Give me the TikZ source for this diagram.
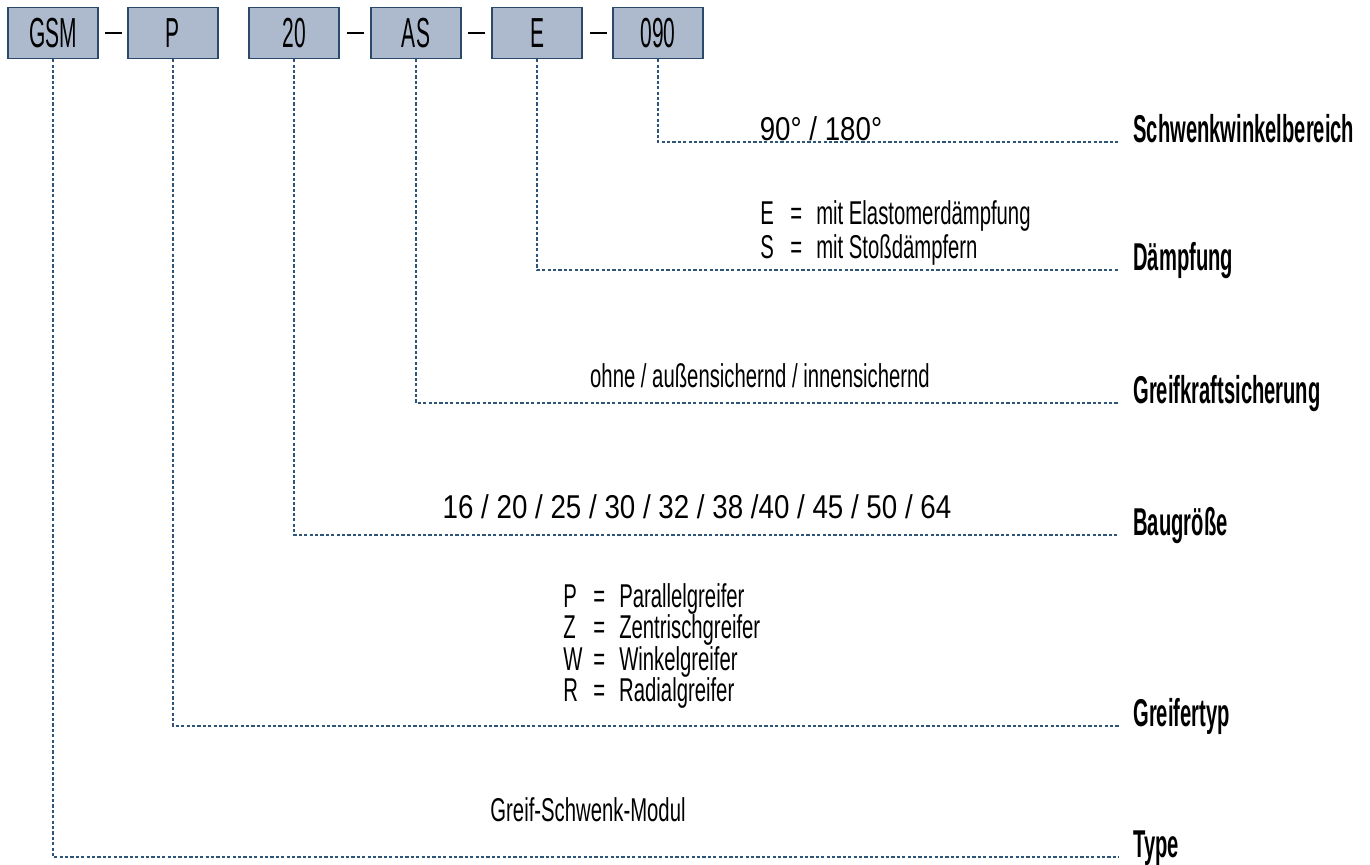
\documentclass[tikz,border=0pt]{standalone}
\usepackage{fontspec}
\setmainfont{Liberation Sans}[FakeStretch=0.615]
\newfontfamily\codefont{Liberation Sans}[FakeStretch=0.5]
\newfontfamily\labfont{Liberation Sans}[FakeStretch=0.52]
\newfontfamily\numfont{Liberation Sans}[FakeStretch=0.84]
\definecolor{boxfill}{HTML}{ADBACD}
\definecolor{boxline}{HTML}{2B4A6B}
\definecolor{dashc}{HTML}{2E5478}
\tikzset{
  code/.style={draw=boxline, fill=boxfill, line width=0.6pt, minimum width=45pt, minimum height=25.5pt, inner sep=0pt, font=\codefont\fontsize{21}{23}\selectfont},
  hyph/.style={inner sep=0pt, fill=black, minimum width=8.5pt, minimum height=1pt},
  lead/.style={draw=dashc, line width=0.55pt, dash pattern=on 1.6pt off 1.1pt},
  lab/.style={font=\labfont\fontsize{19.4}{22}\selectfont\bfseries, anchor=base west, inner sep=0pt},
  val/.style={font=\fontsize{16.5}{18}\selectfont, inner sep=0pt},
  numval/.style={font=\numfont\fontsize{16.5}{18}\selectfont, inner sep=0pt},
}
\newcommand{\eqrow}[2]{\makebox[15pt][l]{#1}=\hspace{7pt}#2}
\begin{document}
\begin{tikzpicture}[x=0.5pt,y=-0.5pt]
\useasboundingbox (0,0) rectangle (1370,864);
% code boxes
\node[code] (b1) at (53,33) {GSM};
\node[code] (b2) at (173,33) {P};
\node[code] (b3) at (294,33) {20};
\node[code] (b4) at (416,33) {AS};
\node[code] (b5) at (537,33) {E};
\node[code] (b6) at (658,33) {090};
\node[hyph] (h1) at (113,33) {};
\node[hyph] (h2) at (355,33) {};
\node[hyph] (h3) at (476,33) {};
\node[hyph] (h4) at (598,33) {};
% line ends
\coordinate (e6) at (1119,142);
\coordinate (e5) at (1119,270);
\coordinate (e4) at (1119,403);
\coordinate (e3) at (1119,535);
\coordinate (e2) at (1119,726);
\coordinate (e1) at (1119,857);
\draw[lead] (b6.south) |- (e6);
\draw[lead] (b5.south) |- (e5);
\draw[lead] (b4.south) |- (e4);
\draw[lead] (b3.south) |- (e3);
\draw[lead] (b2.south) |- (e2);
\draw[lead] (b1.south) |- (e1);
% labels
\node[lab] (l6) at (1133,142) {Schwenkwinkelbereich};
\node[lab] (l5) at (1133,270) {Dämpfung};
\node[lab] (l4) at (1133,403) {Greifkraftsicherung};
\node[lab] (l3) at (1133,535) {Baugröße};
\node[lab] (l2) at (1133,726) {Greifertyp};
\node[lab] (l1) at (1133,857) {Type};
% values
\node[numval, anchor=base] (v6) at (821,140) {90° / 180°};
\node[val, anchor=base west] (v5a) at (760,224) {\eqrow{E}{mit Elastomerdämpfung}};
\node[val, anchor=base west] (v5b) at (760,258) {\eqrow{S}{mit Stoßdämpfern}};
\node[val, anchor=base] (v4) at (760,387) {ohne / außensichernd / innensichernd};
\node[numval, anchor=base] (v3) at (697,518) {16 / 20 / 25 / 30 / 32 / 38 /40 / 45 / 50 / 64};
\node[val, anchor=base west] (v2a) at (563,607) {\eqrow{P}{Parallelgreifer}};
\node[val, anchor=base west] (v2b) at (563,638) {\eqrow{Z}{Zentrischgreifer}};
\node[val, anchor=base west] (v2c) at (563,670) {\eqrow{W}{Winkelgreifer}};
\node[val, anchor=base west] (v2d) at (563,701) {\eqrow{R}{Radialgreifer}};
\node[val, anchor=base] (v1) at (588,821) {Greif-Schwenk-Modul};
\end{tikzpicture}
\end{document}
